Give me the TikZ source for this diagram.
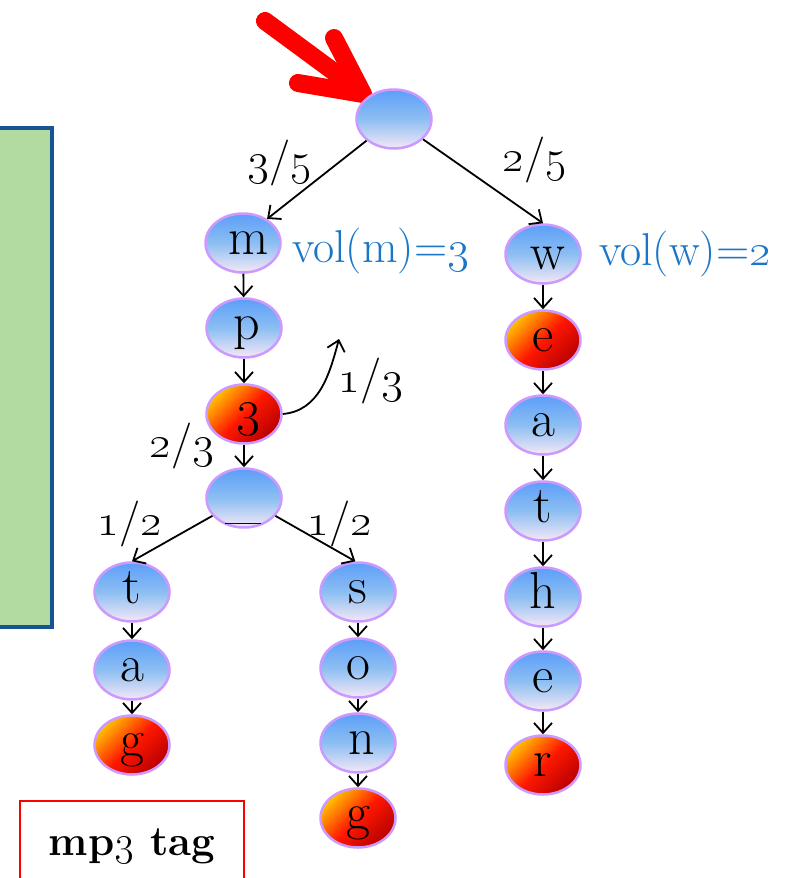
\RequirePackage{fix-cm}
\documentclass[tikz,border=0pt]{standalone}
\usetikzlibrary{arrows.meta,shapes.geometric}
\definecolor{nodeblue}{RGB}{92,158,248}
\definecolor{nodemid}{RGB}{140,190,242}
\definecolor{nodelav}{RGB}{245,232,246}
\definecolor{nodeborder}{RGB}{204,153,255}
\definecolor{orangetop}{RGB}{255,192,0}
\definecolor{redmid}{RGB}{255,24,0}
\definecolor{darkred}{RGB}{185,0,0}
\definecolor{volblue}{RGB}{28,118,200}
\definecolor{greenfill}{RGB}{178,219,160}
\definecolor{greenborder}{RGB}{24,84,148}
\newcommand\myos[1]{\oldstylenums{#1}}
\tikzset{
 trie/.style={ellipse, draw=nodeborder, line width=2.5pt, minimum width=75pt, minimum height=59pt,
   inner sep=0pt, text height=22pt, text depth=0pt, font=\fontsize{52}{56}\selectfont},
 bluenode/.style={trie, top color=nodeblue, bottom color=nodelav, middle color=nodemid},
 hotnode/.style={trie, top color=orangetop, bottom color=darkred, middle color=redmid, shading angle=45},
 edge/.style={draw=black, line width=1.8pt, -{Straight Barb[length=10pt,width=18pt,line width=1.8pt]}},
 lbl/.style={font=\fontsize{46}{50}\selectfont, inner sep=0pt},
 vol/.style={lbl, text=volblue, anchor=base west},
 pointer/.style={red, line width=18pt, line cap=round, line join=round},
}
\begin{document}
\begin{tikzpicture}[x=1pt,y=-1pt]
\useasboundingbox (0,0) rectangle (796,878);
\fill[white] (0,0) rectangle (796,878);
% green panel
\draw[fill=greenfill, draw=greenborder, line width=4pt] (-10,128) rectangle (52,627);
% red pointer
\draw[pointer] (265,21) -- (360,91);
\draw[pointer] (298,83) -- (363,94) -- (334,38);
% nodes
\node[bluenode] (root) at (394,119) {};
\node[bluenode] (m) at (243,243) {\hspace{12pt}m};
\node[bluenode] (p) at (244,328) {\hspace{6pt}p};
\node[hotnode] (n3) at (244,414) {\hspace{10pt}\myos{3}};
\node[bluenode] (us) at (244,498) {\raisebox{-8pt}{\_}};
\node[bluenode] (t1) at (132,592) {t};
\node[bluenode] (a1) at (132,670) {a};
\node[hotnode] (g1) at (132,745) {g};
\node[bluenode] (s) at (358,592) {s};
\node[bluenode] (o) at (358,668) {o};
\node[bluenode] (nn) at (358,743) {\hspace{8pt}n};
\node[hotnode] (g2) at (358,818) {g};
\node[bluenode] (w) at (543,254) {\hspace{10pt}\raisebox{-4pt}{w}};
\node[hotnode] (e1) at (543,340) {e};
\node[bluenode] (a2) at (543,425) {a};
\node[bluenode] (t2) at (543,511) {t};
\node[bluenode] (h) at (543,597) {h};
\node[bluenode] (e2) at (543,681) {e};
\node[hotnode] (r) at (543,765) {r};
\coordinate (c13) at (339,339);
% edges
\draw[edge] (root) -- (m.45);
\draw[edge] (root) -- (w.north);
\draw[edge] (m) -- (p);
\draw[edge] (p) -- (n3);
\draw[edge] (n3) -- (us);
\draw[edge] (us) -- (t1.north);
\draw[edge] (us) -- (s.95);
\draw[edge] (t1) -- (a1);
\draw[edge] (a1) -- (g1);
\draw[edge] (s) -- (o);
\draw[edge] (o) -- (nn);
\draw[edge] (nn) -- (g2);
\draw[edge] (w) -- (e1);
\draw[edge] (e1) -- (a2);
\draw[edge] (a2) -- (t2);
\draw[edge] (t2) -- (h);
\draw[edge] (h) -- (e2);
\draw[edge] (e2) -- (r);
\draw[edge] (n3.east) to[out=5, in=-105] (c13);
% labels
\node[lbl] (l35) at (280,163) {\myos{3}/\myos{5}};
\node[lbl] (l25) at (535,160) {\myos{2}/\myos{5}};
\node[vol] (vm) at (292,262) {vol(m)=\myos{3}};
\node[vol] (vw) at (599,265) {vol(w)=\myos{2}};
\node[lbl] (l13) at (371,381) {\myos{1}/\myos{3}};
\node[lbl] (l23) at (182,446) {\myos{2}/\myos{3}};
\node[lbl] (l12a) at (130,524) {\myos{1}/\myos{2}};
\node[lbl] (l12b) at (340,524) {\myos{1}/\myos{2}};
% mp3 tag box
\node[draw=red, line width=2pt, minimum width=224pt, minimum height=90pt, inner sep=0pt,
  font=\bfseries\fontsize{42}{46}\selectfont] (tag) at (132,846) {\raisebox{6pt}{mp\myos{3} tag}};
\end{tikzpicture}
\end{document}
